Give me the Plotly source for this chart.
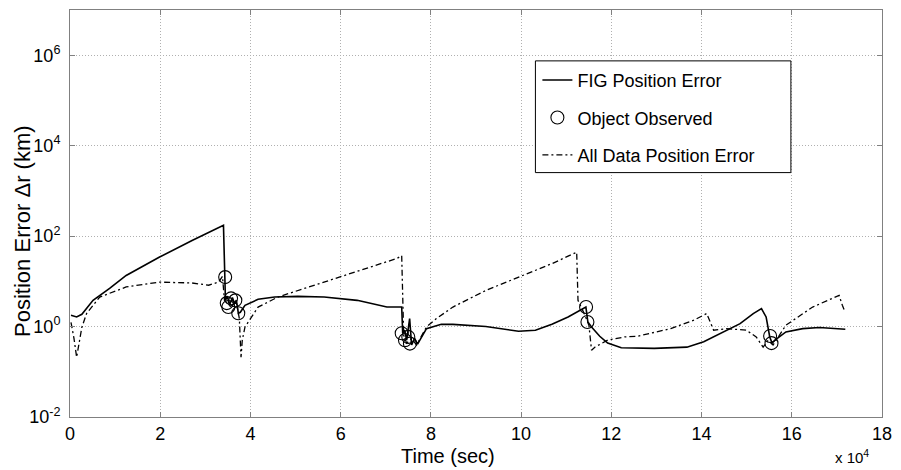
import plotly.graph_objects as go

# FIG position error (solid)
fig_t = [220, 1470, 2630, 5110, 8780, 12450, 19760, 27060, 34020, 34240, 34460, 34900, 35340, 36000,
         36440, 36880, 37320, 37750, 38790, 41700, 45370, 50480, 56340, 63660, 70240, 73530, 73750,
         74190, 74630, 75290, 75730, 76390, 77050, 79020, 82310, 84880, 92190, 99430, 103170, 106830,
         110410, 114360, 114800, 115610, 117430, 119190, 122200, 129510, 136750, 140480, 144150,
         148540, 151460, 153280, 154310, 155120, 155630, 156280, 158700, 162430, 166100, 171870]
fig_err = [1.78, 1.63, 1.87, 3.8, 7.0, 13.5, 34, 80, 173, 12.4, 3.8, 4.7, 2.95, 4.4,
           3.3, 3.8, 1.97, 2.07, 2.95, 4.0, 4.5, 4.65, 4.5, 3.8, 2.7, 2.7, 0.71,
           0.83, 0.5, 1.5, 0.39, 0.55, 0.41, 0.9, 1.12, 1.12, 1.0, 0.79, 0.83, 1.12,
           1.63, 2.7, 1.26, 0.98, 0.61, 0.43, 0.34, 0.33, 0.35, 0.46, 0.70,
           1.16, 1.94, 2.5, 1.63, 0.59, 0.43, 0.5, 0.76, 0.90, 0.95, 0.87]

# All data position error (dash-dot)
all_t = [220, 880, 1470, 1980, 2630, 3670, 6590, 12450, 19760, 27060, 30730, 32930, 33800, 34240,
         35560, 36880, 37540, 37910, 38190, 38790, 41700, 46100, 56340, 59270, 65850, 72440, 73530,
         73750, 73970, 74630, 75730, 76830, 79020, 81220, 84880, 92190, 99430, 106830, 112320,
         112610, 114150, 115030, 115610, 116340, 119190, 122920, 125840, 133170, 138290, 141140,
         142680, 145530, 149920, 152110, 153650, 154750, 155850, 158700, 164630, 170490, 171210, 171650]
all_err = [1.24, 0.55, 0.21, 0.39, 0.96, 1.94, 4.5, 7.5, 9.6, 9.2, 8.2, 9.6, 12.9, 3.8,
           2.8, 3.4, 1.5, 0.21, 0.5, 0.98, 2.7, 4.5, 9.6, 12.3, 19.4, 32, 37,
           3.8, 0.64, 0.43, 0.55, 0.39, 0.98, 1.5, 2.7, 6.3, 12.5, 24.6, 44,
           3.8, 1.78, 1.07, 0.30, 0.35, 0.5, 0.59, 0.61, 0.9, 1.38, 1.94,
           0.83, 0.9, 0.83, 0.59, 0.35, 0.5, 0.39, 1.07, 2.7, 4.9, 2.95, 2.3]

# Observation times (circles)
obs_t = [34400, 34750, 35700, 36650, 35100, 37300, 73530, 74990, 75350, 74260,
         114400, 114700, 155200, 155500]
obs_err = [12.4, 3.3, 4.2, 3.8, 2.7, 1.97, 0.71, 0.59, 0.42, 0.50,
           2.7, 1.26, 0.62, 0.43]

x_tick_vals = [0, 20000, 40000, 60000, 80000, 100000, 120000, 140000, 160000, 180000]
x_tick_text = ["0", "2", "4", "6", "8", "10", "12", "14", "16", "18"]
y_tick_vals = [1e-2, 1e0, 1e2, 1e4, 1e6]
y_tick_text = ["10<sup>-2</sup>", "10<sup>0</sup>", "10<sup>2</sup>", "10<sup>4</sup>", "10<sup>6</sup>"]

FONT = "Liberation Sans, Arial, sans-serif"

fig = go.Figure()
fig.add_trace(go.Scatter(x=fig_t, y=fig_err, mode="lines", name="FIG Position Error",
                         line=dict(color="black", width=1.6), legendgroup="a"))
fig.add_trace(go.Scatter(x=obs_t, y=obs_err, mode="markers", name="Object Observed",
                         marker=dict(symbol="circle-open", size=13, color="black",
                                     line=dict(width=1.1, color="black")), legendgroup="b"))
fig.add_trace(go.Scatter(x=all_t, y=all_err, mode="lines", name="All Data Position Error",
                         line=dict(color="black", width=1.3, dash="6px,3px,2px,3px"), legendgroup="c"))

L, R, T, B = 70, 890, 9, 417
W, H = 901, 470
pw, ph = R - L, B - T

def px(x):
    return (x - L) / pw

def py(y):
    return (B - y) / ph

fig.add_shape(type="rect", xref="paper", yref="paper",
              x0=px(540), x1=px(798), y0=py(172), y1=py(60),
              line=dict(color="black", width=1), fillcolor="white", layer="above")

grid = dict(showgrid=True, gridcolor="#b0b0b0", griddash="1px,2px", gridwidth=1,
            showline=True, linecolor="#808080", linewidth=1, mirror="ticks",
            ticks="inside", ticklen=5, tickcolor="#808080", zeroline=False)

fig.update_layout(
    width=W, height=H,
    margin=dict(l=L, r=W - R, t=T, b=H - B),
    plot_bgcolor="white", paper_bgcolor="white",
    font=dict(family=FONT, color="black", size=18),
    showlegend=True,
    legend=dict(x=px(542), y=py(61), xanchor="left", yanchor="top",
                bgcolor="rgba(0,0,0,0)", borderwidth=0,
                font=dict(size=18, family=FONT), traceorder="grouped", tracegroupgap=11),
    xaxis=dict(range=[0, 180000], tickvals=x_tick_vals, ticktext=x_tick_text,
               tickfont=dict(size=18), **grid),
    yaxis=dict(type="log", range=[-2, 7], tickvals=y_tick_vals, ticktext=y_tick_text,
               tickfont=dict(size=18), ticklabelstandoff=5, **grid),
    annotations=[
        dict(text="Time (sec)", x=px(452), y=py(456), xref="paper", yref="paper",
             showarrow=False, font=dict(size=20), xanchor="center", yanchor="middle"),
        dict(text="Position Error \u0394r (km)", x=px(22), y=py(230), xref="paper", yref="paper",
             showarrow=False, font=dict(size=22), textangle=-90, xanchor="center", yanchor="middle"),
        dict(text="x 10<sup>4</sup>", x=px(860), y=py(457), xref="paper", yref="paper",
             showarrow=False, font=dict(size=15), xanchor="center", yanchor="middle"),
    ],
)

fig.write_html("out.html")
